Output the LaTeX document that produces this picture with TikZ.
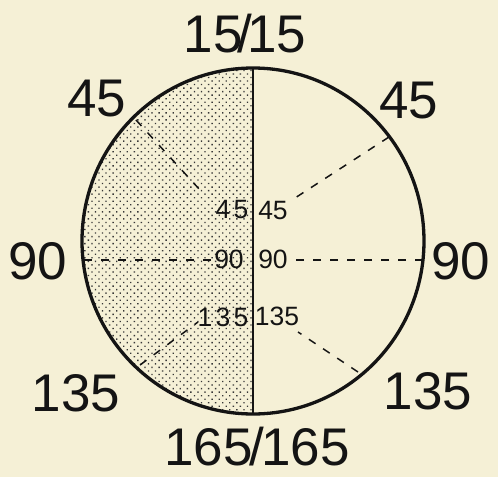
\documentclass[tikz,border=0pt]{standalone}
\usepackage{fontspec}
\setmainfont{Liberation Sans}
\newfontfamily\spacedfont[LetterSpace=12]{Liberation Sans}
\usetikzlibrary{patterns.meta}
\definecolor{paper}{RGB}{245,240,214}
\definecolor{ink}{RGB}{20,20,20}
\begin{document}
\begin{tikzpicture}[x=1pt,y=-1pt,
  outline/.style={draw=ink,line width=3.3pt},
  divider/.style={draw=ink,line width=2.8pt},
  ray/.style={draw=ink,line width=1.5pt,dash pattern=on 8pt off 9pt},
  biglabel/.style={inner sep=0pt,text=ink,font=\fontsize{53}{53}\selectfont},
  smalllabel/.style={inner sep=0pt,text=ink,font=\fontsize{26.5}{26.5}\selectfont},
  spacedlabel/.style={inner sep=0pt,text=ink,font=\fontsize{26.5}{26.5}\spacedfont}]
\fill[paper] (0,0) rectangle (498,477);
\useasboundingbox (0,0) rectangle (498,477);
% circle geometry
\coordinate (c) at (253,241);
\coordinate (top) at (253,68);
\coordinate (bot) at (253,414);
% stippled left half
\fill[pattern={Dots[distance=5pt,radius=0.95pt,angle=45]},pattern color=ink!85]
  (bot) arc[start angle=90,end angle=270,x radius=171,y radius=173] -- cycle;
% rays
\coordinate (l45o) at (136,120);
\coordinate (l45i) at (200,190);
\coordinate (r45o) at (389,137);
\coordinate (r45i) at (295,198);
\coordinate (l90o) at (84,260);
\coordinate (l90i) at (212,260);
\coordinate (r90o) at (423,260);
\coordinate (r90i) at (293,260);
\coordinate (l135o) at (140,365);
\coordinate (l135i) at (198,322);
\coordinate (r135o) at (358,372);
\coordinate (r135i) at (298,332);
\draw[ray] (l45o) -- (l45i);
\draw[ray] (r45o) -- (r45i);
\draw[ray] (l90o) -- (l90i);
\draw[ray] (r90o) -- (r90i);
\draw[ray] (l135o) -- (l135i);
\draw[ray] (r135o) -- (r135i);
% circle and divider
\draw[outline] (c) ellipse[x radius=171,y radius=173];
\draw[divider] (top) -- (bot);
% outer labels
\node[biglabel] (t) at (245,34) {15\kern-5pt/\kern-5pt15};
\node[biglabel] (b) at (257,447) {165\kern-3pt/\kern-3pt165};
\node[biglabel] (tl) at (97,99) {45};
\node[biglabel] (tr) at (409,101) {45};
\node[biglabel] (ml) at (38,261) {90};
\node[biglabel] (mr) at (461,261) {90};
\node[biglabel] (bl) at (76,393) {135};
\node[biglabel] (br) at (428,391) {135};
% inner labels
\node[spacedlabel] (il45) at (232,210) {45};
\node[smalllabel] (ir45) at (273,211) {45};
\node[smalllabel] (il90) at (229,259) {90};
\node[smalllabel] (ir90) at (273,259) {90};
\node[spacedlabel] (il135) at (223,317) {135};
\node[smalllabel] (ir135) at (277,316) {135};
\end{tikzpicture}
\end{document}
